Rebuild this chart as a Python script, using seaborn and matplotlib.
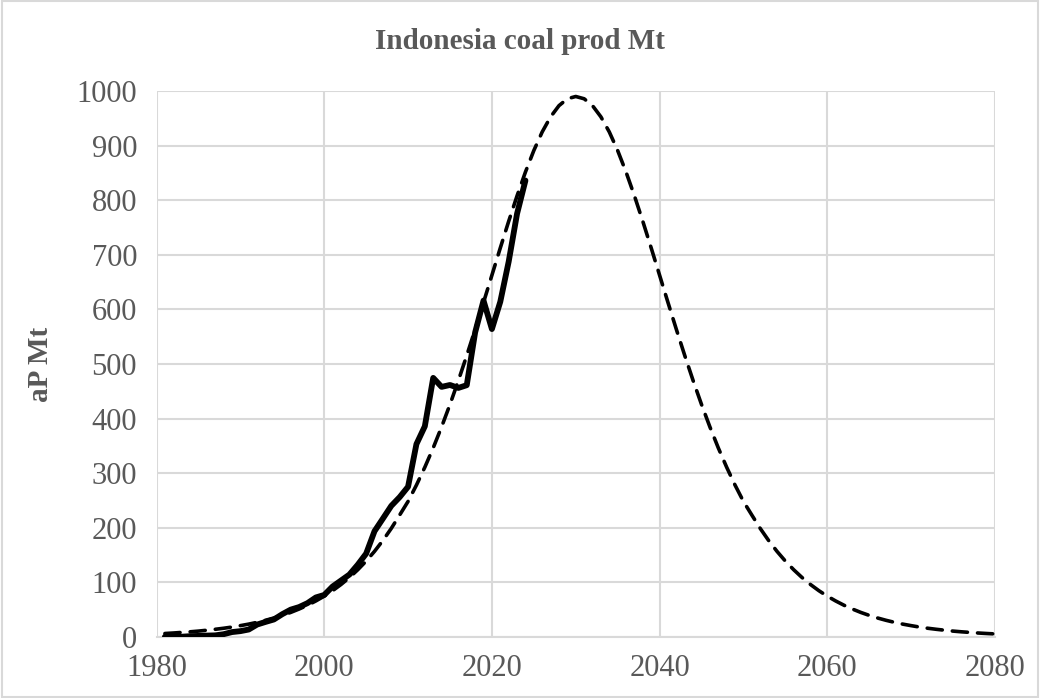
import matplotlib
matplotlib.use("Agg")
import matplotlib.pyplot as plt
import seaborn as sns
import pandas as pd
from matplotlib.patches import Rectangle

# Indonesia annual coal production, Mt
prod_years = list(range(1981, 2025))
prod_mt = [0.4, 0.5, 0.5, 1.5, 2.0, 2.6, 3.0, 5.1, 9.0, 10.7,
           13.7, 22.8, 27.6, 32.1, 41.8, 50.1, 54.8, 62.0, 72.4, 77.0,
           92.5, 103.4, 114.3, 132.4, 152.7, 193.8, 216.9, 240.2, 256.2, 275.2,
           353.3, 385.9, 474.6, 458.1, 461.6, 456.2, 461.2, 557.8, 616.2, 564.0,
           614.0, 687.4, 775.2, 836.1]

# Fitted production profile, Mt
fit_years = list(range(1981, 2081))
fit_mt = [6.4, 7.3, 8.4, 9.5, 10.8, 12.4, 14.1, 16.0, 18.2, 20.8,
          23.6, 26.9, 30.6, 34.8, 39.6, 45.0, 51.2, 58.1, 66.0, 74.8,
          84.8, 96.1, 108.8, 123.1, 139.0, 156.9, 176.8, 198.9, 223.4, 248.3,
          278.2, 310.9, 346.4, 384.8, 425.9, 469.6, 515.6, 563.4, 612.7, 662.6,
          712.5, 761.3, 808.0, 851.6, 891.0, 925.1, 952.7, 973.2, 985.8, 990.0,
          985.8, 973.2, 952.7, 925.1, 891.0, 851.6, 808.0, 761.3, 712.5, 662.6,
          612.7, 563.4, 515.6, 469.6, 425.9, 384.8, 346.4, 310.9, 278.2, 248.3,
          223.4, 198.9, 176.8, 156.9, 139.0, 123.1, 108.8, 96.1, 84.8, 74.8,
          66.0, 58.1, 51.2, 45.0, 39.6, 34.8, 30.6, 26.9, 23.6, 20.8,
          18.2, 16.0, 14.1, 12.4, 10.8, 9.5, 8.4, 7.3, 6.4, 5.6]

x_ticks = [1980, 2000, 2020, 2040, 2060, 2080]
y_ticks = [0, 100, 200, 300, 400, 500, 600, 700, 800, 900, 1000]

title_text = "Indonesia coal prod Mt"
ylabel_text = "aP Mt"

sns.set_theme(style="white")
plt.rcParams["font.family"] = ["Liberation Serif", "DejaVu Serif"]

text_grey = "#595959"
grid_grey = "#d9d9d9"

fig = plt.figure(figsize=(10.4, 6.98), dpi=100)
ax = fig.add_axes([0.1505, 0.0874, 0.8062, 0.7822])

prod_df = pd.DataFrame({"year": prod_years, "mt": prod_mt})
fit_df = pd.DataFrame({"year": fit_years, "mt": fit_mt})

sns.lineplot(data=fit_df, x="year", y="mt", ax=ax, color="black",
             linewidth=2.6, linestyle=(0, (4.2, 2.8)), zorder=3)
sns.lineplot(data=prod_df, x="year", y="mt", ax=ax, color="black",
             linewidth=4.2, zorder=4)
for ln in ax.lines:
    ln.set_solid_joinstyle("round")
    ln.set_dash_capstyle("round")

ax.set_xlim(1980, 2080)
ax.set_ylim(0, 1000)
ax.set_xticks(x_ticks)
ax.set_yticks(y_ticks)
ax.set_xticklabels([str(v) for v in x_ticks])
ax.set_yticklabels([str(v) for v in y_ticks])

ax.grid(True, color=grid_grey, linewidth=1.5)
ax.set_axisbelow(True)
for side in ["top", "right", "left"]:
    ax.spines[side].set_visible(False)
ax.spines["bottom"].set_color(grid_grey)
ax.spines["bottom"].set_linewidth(1.5)

ax.tick_params(axis="both", length=0, labelsize=22, labelcolor=text_grey)
ax.tick_params(axis="x", pad=12)
ax.tick_params(axis="y", pad=14)

ax.set_xlabel("")
ax.set_ylabel(ylabel_text, fontsize=21, fontweight="bold", color=text_grey,
              labelpad=16)
fig.text(0.5, 0.941, title_text, ha="center", va="center", fontsize=21,
         fontweight="bold", color=text_grey)

# chart-area border
fig.patches.append(Rectangle((0.002, 0.002), 0.996, 0.996, transform=fig.transFigure,
                             fill=False, edgecolor=grid_grey, linewidth=1.5))

fig.savefig("out.png", dpi=100, facecolor="white")
